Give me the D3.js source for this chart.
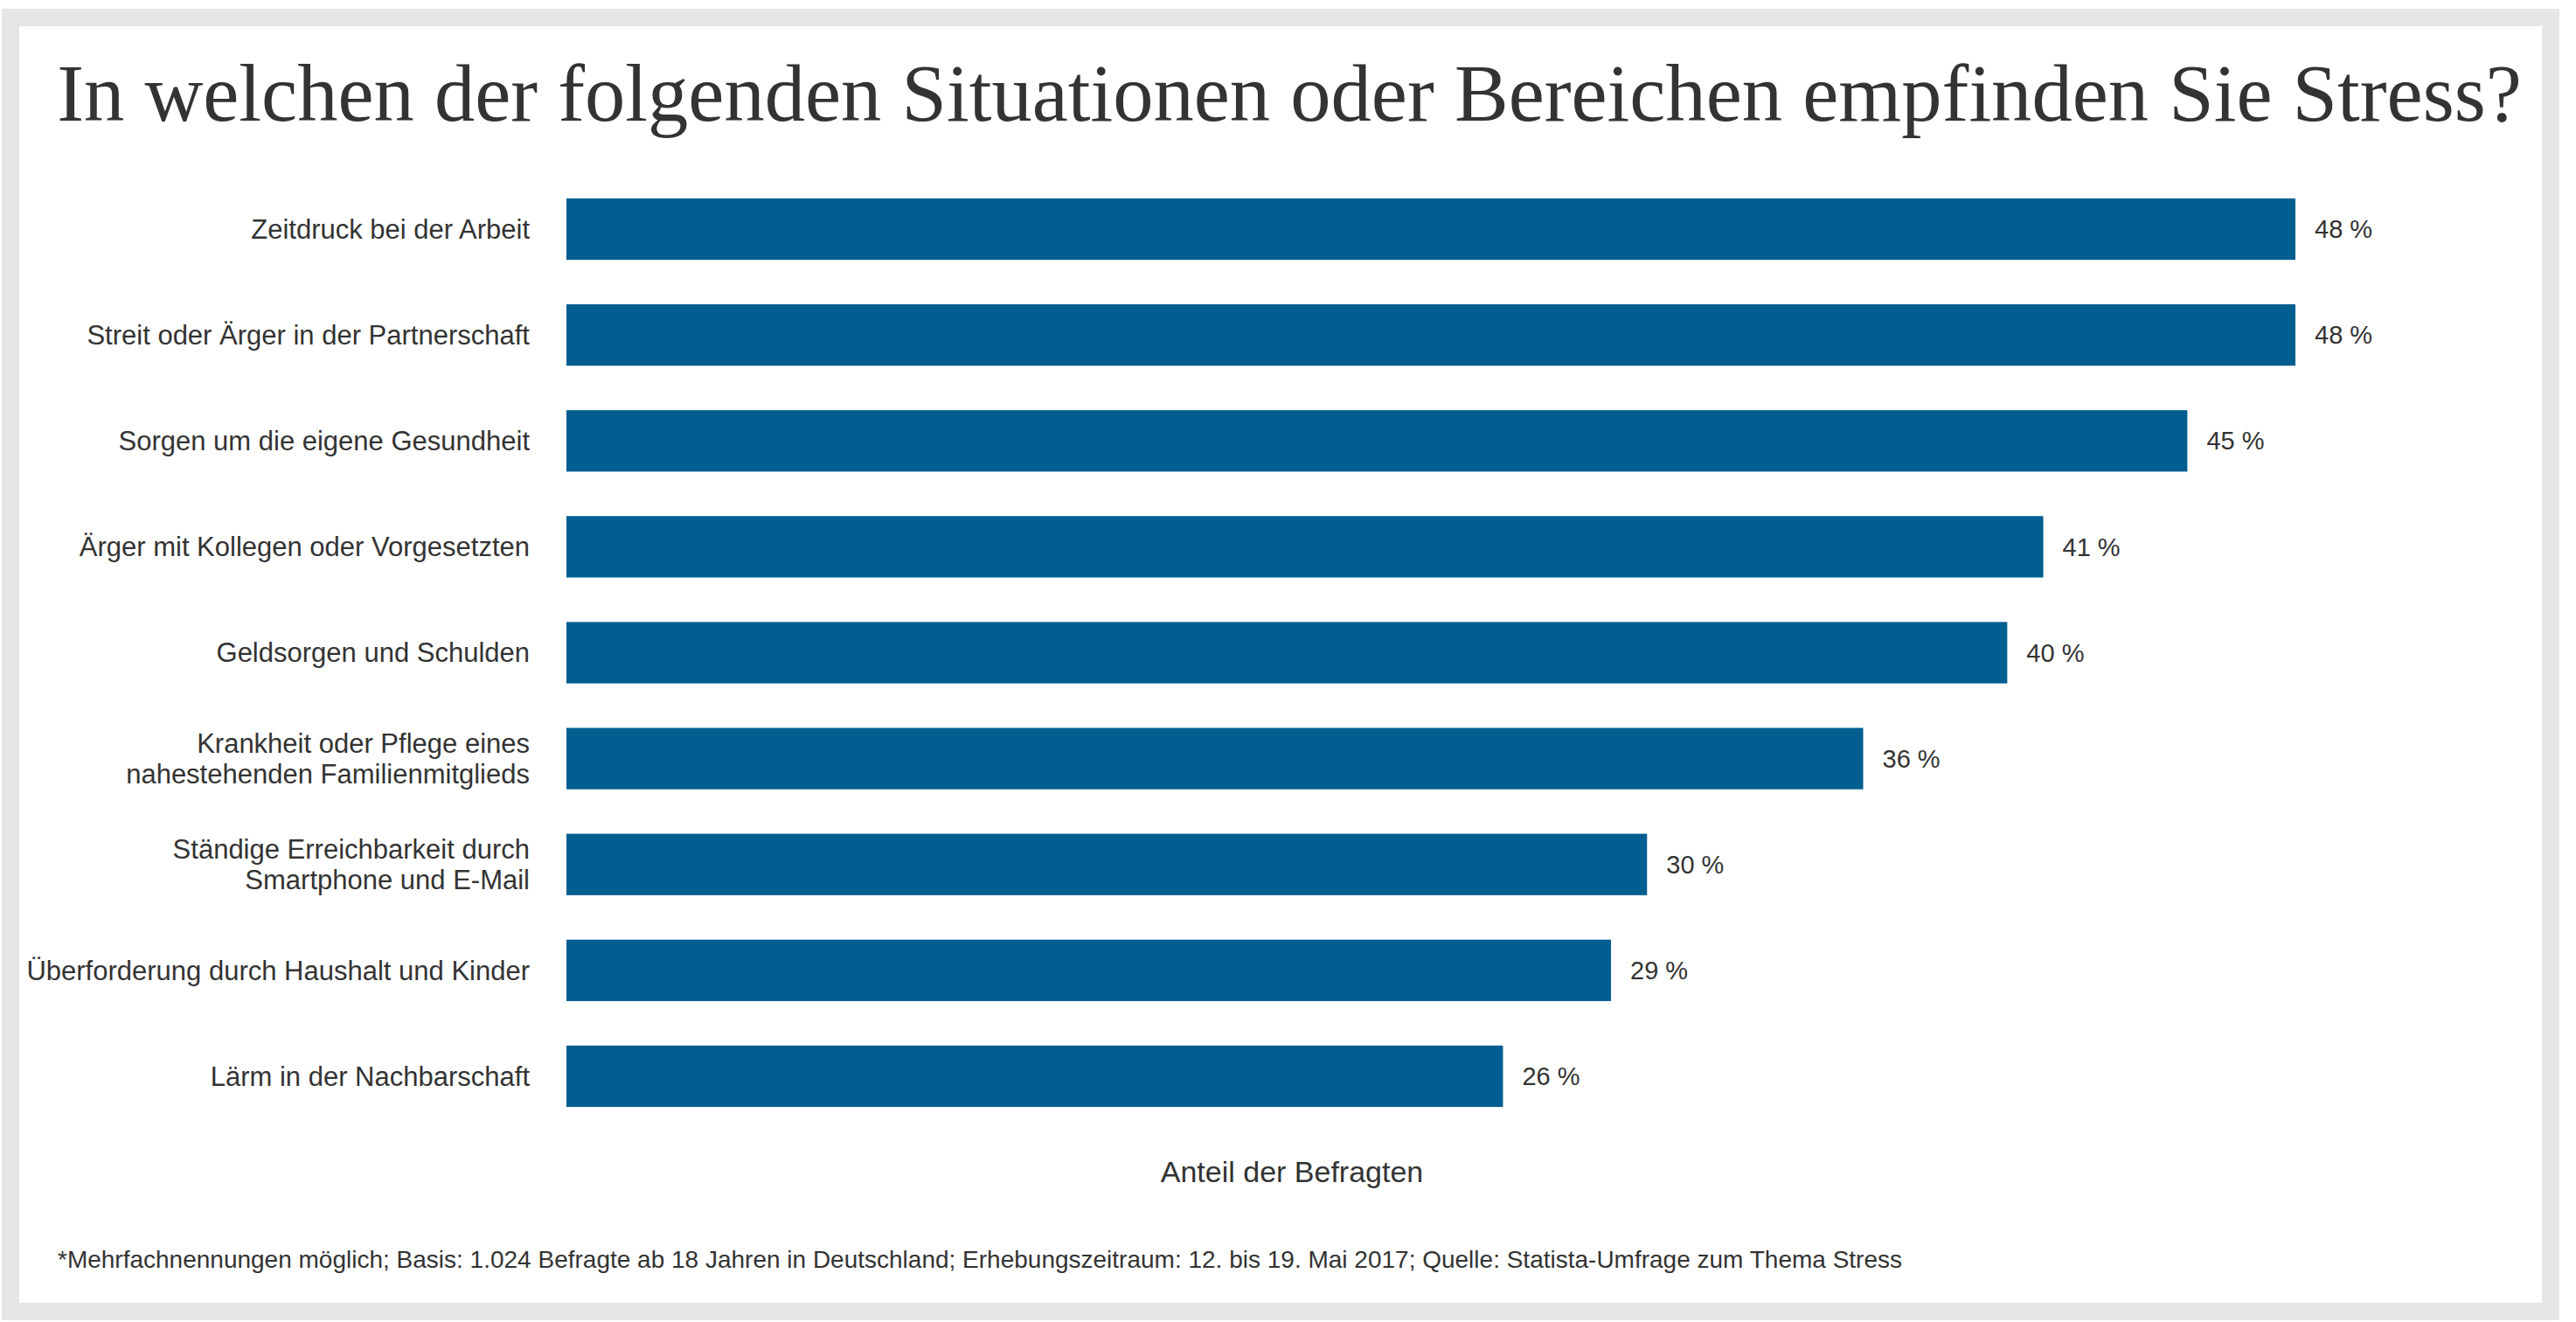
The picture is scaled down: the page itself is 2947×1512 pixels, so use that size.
<!DOCTYPE html>
<html>
<head>
<meta charset="utf-8">
<script src="https://cdn.jsdelivr.net/npm/d3@7"></script>
<style>
  html, body { margin: 0; padding: 0; background: #ffffff; }
  svg { display: block; }
</style>
</head>
<body>
<svg id="chart" width="2947" height="1512"></svg>
<script>
const title = "In welchen der folgenden Situationen oder Bereichen empfinden Sie Stress?";
const categories = [
  "Zeitdruck bei der Arbeit",
  "Streit oder Ärger in der Partnerschaft",
  "Sorgen um die eigene Gesundheit",
  "Ärger mit Kollegen oder Vorgesetzten",
  "Geldsorgen und Schulden",
  "Krankheit oder Pflege eines|nahestehenden Familienmitglieds",
  "Ständige Erreichbarkeit durch|Smartphone und E-Mail",
  "Überforderung durch Haushalt und Kinder",
  "Lärm in der Nachbarschaft"
];
const values = [48, 48, 45, 41, 40, 36, 30, 29, 26];
const axisTitle = "Anteil der Befragten";
const footnote = "*Mehrfachnennungen möglich; Basis: 1.024 Befragte ab 18 Jahren in Deutschland; Erhebungszeitraum: 12. bis 19. Mai 2017; Quelle: Statista-Umfrage zum Thema Stress";

const svg = d3.select("#chart");
const W = 2947, H = 1512;

// frame
svg.append("rect").attr("x", 0).attr("y", 0).attr("width", W).attr("height", H).attr("fill", "#ffffff");
svg.append("rect")
  .attr("x", 12).attr("y", 20).attr("width", 2906).attr("height", 1480)
  .attr("fill", "none").attr("stroke", "#e6e6e6").attr("stroke-width", 20);

// title
const t = svg.append("text")
  .attr("x", 1475).attr("y", 138)
  .attr("text-anchor", "middle")
  .attr("font-family", "'Liberation Serif', 'DejaVu Serif', serif")
  .attr("font-size", 80)
  .attr("fill", "#333333")
  .text(title);
const tw = t.node().getComputedTextLength();
t.attr("font-size", 80 * 2820 / tw);

const x = d3.scaleLinear().domain([0, d3.max(values)]).range([648, 2626]);
const y = d3.scaleBand().domain(categories).range([201.5, 1291.5]).paddingInner(0.42).paddingOuter(0.21);

const g = svg.append("g");

g.selectAll("rect.bar")
  .data(values)
  .join("rect")
  .attr("class", "bar")
  .attr("x", x(0))
  .attr("y", (d, i) => y(categories[i]))
  .attr("width", d => x(d) - x(0))
  .attr("height", y.bandwidth())
  .attr("fill", "#005e91");

// value labels
g.selectAll("text.val")
  .data(values)
  .join("text")
  .attr("class", "val")
  .attr("x", d => x(d) + 22)
  .attr("y", (d, i) => y(categories[i]) + y.bandwidth() / 2)
  .attr("dy", "0.35em")
  .attr("font-family", "'Liberation Sans', Arial, sans-serif")
  .attr("font-size", 29)
  .attr("fill", "#333333")
  .text(d => d + " %");

// category axis
const yAxis = d3.axisLeft(y).tickSize(0).tickPadding(0);
const ax = svg.append("g").attr("transform", "translate(606,0)").call(yAxis);
ax.select(".domain").remove();
ax.selectAll(".tick text").each(function(d) {
  const sel = d3.select(this);
  const lines = d.split("|");
  sel.text(null)
    .attr("font-family", "'Liberation Sans', Arial, sans-serif")
    .attr("font-size", 31)
    .attr("fill", "#333333")
    .attr("text-anchor", "end")
    .attr("x", 0)
    .attr("dy", null)
    .attr("y", 0);
  const lh = 35;
  lines.forEach((ln, k) => {
    sel.append("tspan")
      .attr("x", 0)
      .attr("y", (k - (lines.length - 1) / 2) * lh)
      .attr("dy", "0.35em")
      .text(ln);
  });
});

// axis title
svg.append("text")
  .attr("x", 1478).attr("y", 1340)
  .attr("dy", "0.35em")
  .attr("text-anchor", "middle")
  .attr("font-family", "'Liberation Sans', Arial, sans-serif")
  .attr("font-size", 34)
  .attr("fill", "#333333")
  .text(axisTitle);

// footnote
svg.append("text")
  .attr("x", 66).attr("y", 1440)
  .attr("dy", "0.35em")
  .attr("font-family", "'Liberation Sans', Arial, sans-serif")
  .attr("font-size", 28)
  .attr("fill", "#333333")
  .text(footnote);
</script>
</body>
</html>
